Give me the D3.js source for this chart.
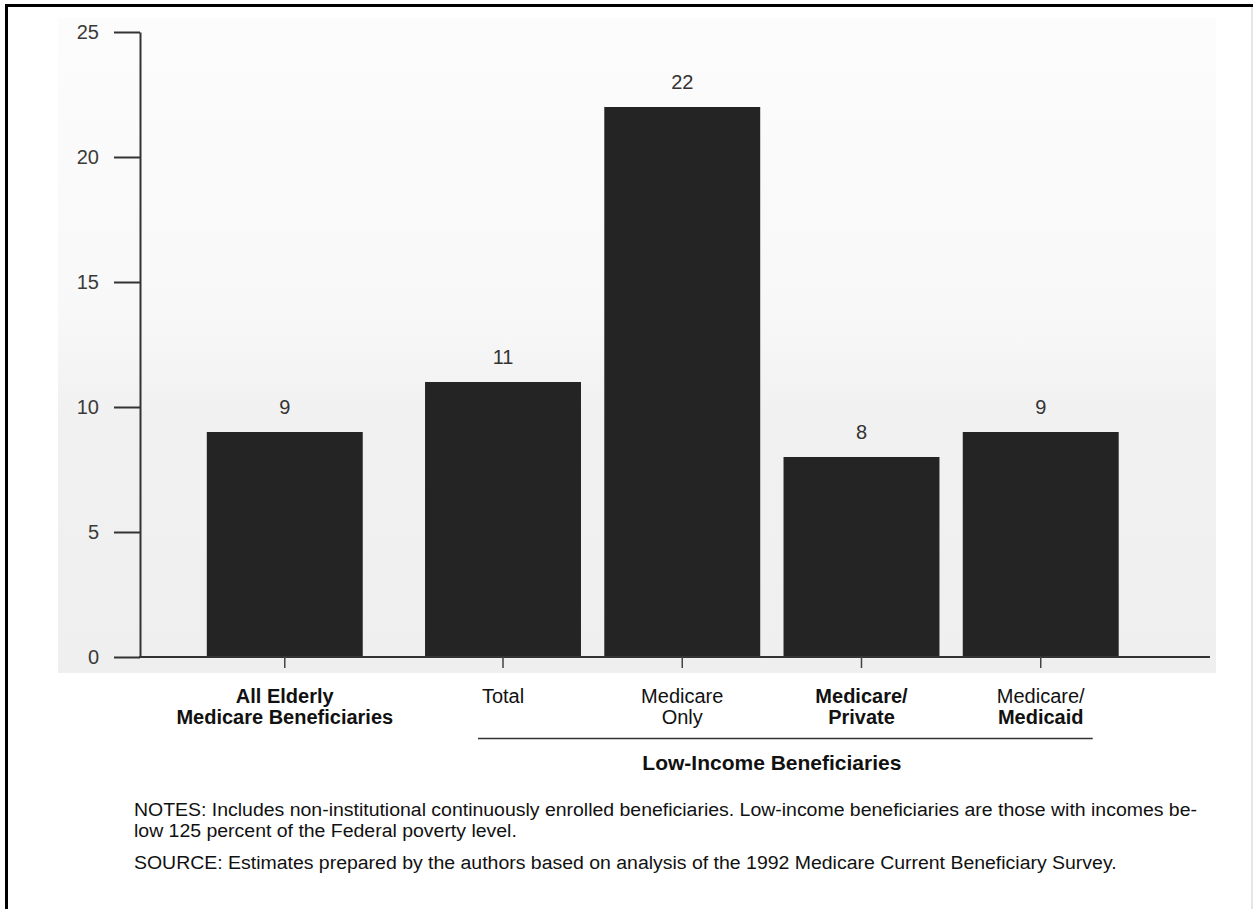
<!DOCTYPE html>
<html>
<head>
<meta charset="utf-8">
<script src="https://cdn.jsdelivr.net/npm/d3@7"></script>
<style>
  html, body { margin: 0; padding: 0; background: #fff; }
  svg { display: block; }
</style>
</head>
<body>
<svg id="chart" width="1253" height="909"></svg>
<script>
// ---- data ----
const categories = ["All Elderly Medicare Beneficiaries", "Total", "Medicare Only", "Medicare/Private", "Medicare/Medicaid"];
const values = [9, 11, 22, 8, 9];
const labelLines = [["All Elderly", "Medicare Beneficiaries"], ["Total"], ["Medicare", "Only"], ["Medicare/", "Private"], ["Medicare/", "Medicaid"]];
const labelBold = [[true, true], [false], [false, false], [true, true], [false, true]];
const yTicks = [0, 5, 10, 15, 20, 25];
const groupLabel = "Low-Income Beneficiaries";
const groupMembers = ["Total", "Medicare Only", "Medicare/Private", "Medicare/Medicaid"];
const notesLines = [
  "NOTES: Includes non-institutional continuously enrolled beneficiaries. Low-income beneficiaries are those with incomes be-",
  "low 125 percent of the Federal poverty level."
];
const sourceLine = "SOURCE: Estimates prepared by the authors based on analysis of the 1992 Medicare Current Beneficiary Survey.";

// ---- layout ----
const svg = d3.select("#chart");
const W = 1253, H = 909;
const axisX = 140, y0 = 657, yTop = 32;
const firstGap = 39;
const FONT = "Liberation Sans, Arial, Helvetica, sans-serif";

const x = d3.scaleBand().domain(categories).range([222.5, 1142]).paddingInner(0.13).paddingOuter(0.13);
const xs = c => x(c) - (c === categories[0] ? firstGap : 0);
const xc = c => xs(c) + x.bandwidth() / 2;
const y = d3.scaleLinear().domain([0, 25]).range([y0, yTop]);

// faint scanned background
const defs = svg.append("defs");
const grad = defs.append("linearGradient").attr("id", "bg").attr("x1", 0).attr("x2", 0).attr("y1", 0).attr("y2", 1);
grad.append("stop").attr("offset", "0%").attr("stop-color", "#fcfcfc");
grad.append("stop").attr("offset", "45%").attr("stop-color", "#f8f8f8");
grad.append("stop").attr("offset", "60%").attr("stop-color", "#f1f1f1");
grad.append("stop").attr("offset", "100%").attr("stop-color", "#efefef");
svg.append("rect").attr("x", 58).attr("y", 18).attr("width", 1158).attr("height", 655).attr("fill", "url(#bg)");

// frame
svg.append("line").attr("x1", 6.5).attr("x2", 6.5).attr("y1", 4).attr("y2", H).attr("stroke", "#000").attr("stroke-width", 3);
svg.append("line").attr("x1", 5).attr("x2", W).attr("y1", 5.5).attr("y2", 5.5).attr("stroke", "#000").attr("stroke-width", 3);
svg.append("line").attr("x1", W - 1).attr("x2", W - 1).attr("y1", 7).attr("y2", H).attr("stroke", "#ddd").attr("stroke-width", 1.5);

// bars
svg.append("g").selectAll("rect").data(categories).join("rect")
  .attr("x", c => xs(c)).attr("width", x.bandwidth())
  .attr("y", (c, i) => y(values[i])).attr("height", (c, i) => y0 - y(values[i]))
  .attr("fill", "#242424");

// value labels
svg.append("g").selectAll("text").data(categories).join("text")
  .attr("x", c => xc(c)).attr("y", (c, i) => y(values[i]) - 18)
  .attr("text-anchor", "middle")
  .attr("font-family", FONT).attr("font-size", 20)
  .attr("fill", "#333")
  .text((c, i) => values[i]);

// y axis
const yAxis = d3.axisLeft(y).tickValues(yTicks).tickSize(26).tickSizeOuter(0).tickPadding(15);
const gy = svg.append("g").attr("transform", `translate(${axisX},0)`).call(yAxis);
gy.select(".domain").attr("stroke", "#333").attr("stroke-width", 2);
gy.selectAll(".tick line").attr("stroke", "#333").attr("stroke-width", 2);
gy.selectAll(".tick text").attr("font-family", FONT).attr("font-size", 20).attr("fill", "#3a3a3a");

// x axis line + ticks
svg.append("line").attr("x1", axisX - 1).attr("x2", 1210).attr("y1", y0).attr("y2", y0).attr("stroke", "#333").attr("stroke-width", 2);
svg.append("g").selectAll("line").data(categories).join("line")
  .attr("x1", c => xc(c)).attr("x2", c => xc(c)).attr("y1", y0).attr("y2", y0 + 11)
  .attr("stroke", "#444").attr("stroke-width", 1.5);

// category labels
const cl = svg.append("g").attr("font-family", FONT).attr("font-size", 20).attr("fill", "#111");
categories.forEach((c, i) => {
  labelLines[i].forEach((ln, j) => {
    cl.append("text").attr("x", xc(c)).attr("y", 703 + j * 21).attr("text-anchor", "middle")
      .attr("font-weight", labelBold[i][j] ? "bold" : "normal").text(ln);
  });
});

// group line and label
const gFirst = groupMembers[0], gLast = groupMembers[groupMembers.length - 1];
svg.append("line").attr("x1", xc(gFirst) - 25).attr("x2", xc(gLast) + 52).attr("y1", 738.5).attr("y2", 738.5)
  .attr("stroke", "#333").attr("stroke-width", 1.3);
svg.append("text").attr("x", (xc(gFirst) + xc(gLast)) / 2).attr("y", 770).attr("text-anchor", "middle")
  .attr("font-family", FONT).attr("font-size", 21).attr("font-weight", "bold").attr("fill", "#111")
  .text(groupLabel);

// notes
const nt = svg.append("g").attr("transform", "translate(134,0) scale(1.025,1)")
  .attr("font-family", FONT).attr("font-size", 19).attr("fill", "#111");
notesLines.forEach((t, i) => {
  nt.append("text").attr("x", 0).attr("y", 816 + i * 21.5).text(t);
});
nt.append("text").attr("x", 0).attr("y", 869).text(sourceLine);
</script>
</body>
</html>
